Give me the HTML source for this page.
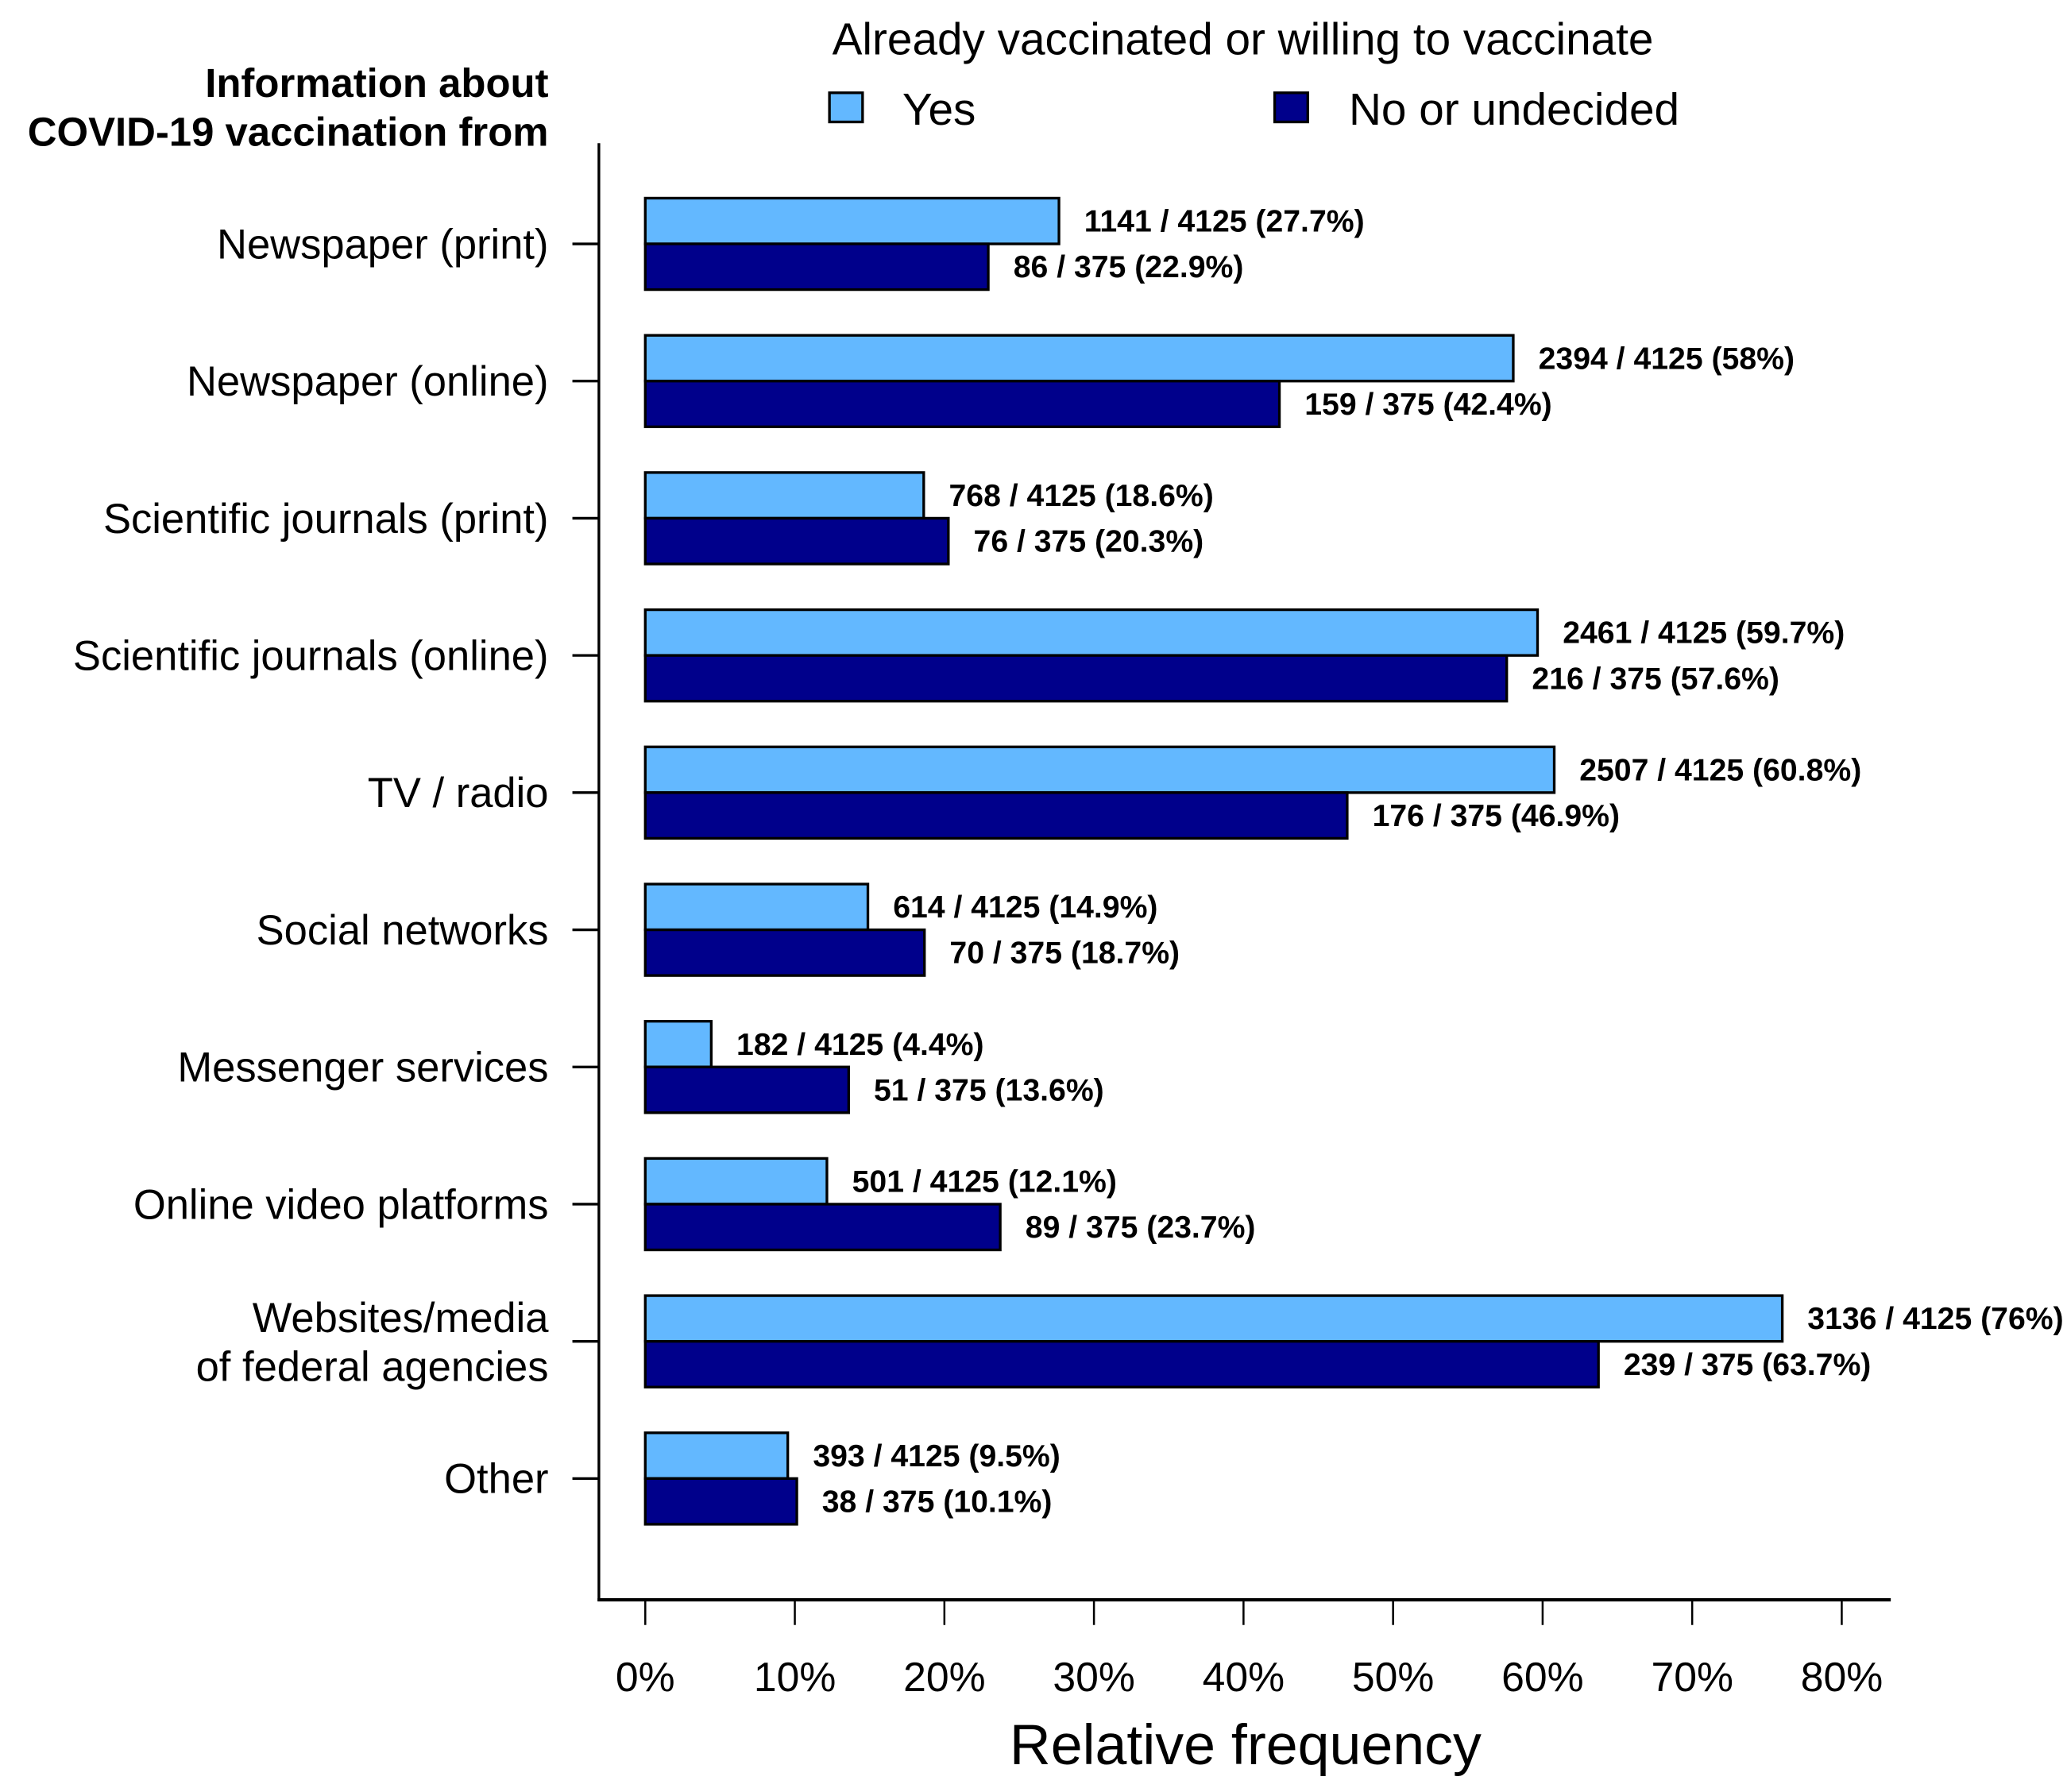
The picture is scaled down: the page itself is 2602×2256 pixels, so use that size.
<!DOCTYPE html>
<html><head><meta charset="utf-8">
<style>html,body{margin:0;padding:0;background:#fff}svg{display:block}text{font-family:"Liberation Sans",Arial,sans-serif}</style>
</head><body>
<svg id="chart" width="2602" height="2256" viewBox="0 0 1560 1352" preserveAspectRatio="none" xmlns="http://www.w3.org/2000/svg">
<text x="938" y="41" font-size="34" text-anchor="middle">Already vaccinated or willing to vaccinate</text>
<rect x="626" y="70" width="25" height="22" fill="#63B8FF" stroke="#000" stroke-width="2"/>
<text x="681" y="94" font-size="34">Yes</text>
<rect x="962" y="70" width="25" height="22" fill="#00008B" stroke="#000" stroke-width="2"/>
<text x="1018" y="94" font-size="34">No or undecided</text>
<text x="414" y="73" font-size="30.5" font-weight="bold" text-anchor="end">Information about</text>
<text x="414" y="110" font-size="30.5" font-weight="bold" text-anchor="end">COVID-19 vaccination from</text>
<line x1="452" y1="108" x2="452" y2="1208" stroke="#000" stroke-width="2"/>
<line x1="451" y1="1207" x2="1427" y2="1207" stroke="#000" stroke-width="2.5"/>
<text x="940" y="1331" font-size="43" text-anchor="middle">Relative frequency</text>
<g id="bars"></g>
</svg>
<script>
const categories = [["Newspaper (print)"],["Newspaper (online)"],["Scientific journals (print)"],["Scientific journals (online)"],["TV / radio"],["Social networks"],["Messenger services"],["Online video platforms"],["Websites/media","of federal agencies"],["Other"]];
const yesCounts = [1141,2394,768,2461,2507,614,182,501,3136,393];
const noCounts = [86,159,76,216,176,70,51,89,239,38];
const yesTotal = 4125;
const noTotal = 375;
const yesLabels = ["27.7%","58%","18.6%","59.7%","60.8%","14.9%","4.4%","12.1%","76%","9.5%"];
const noLabels = ["22.9%","42.4%","20.3%","57.6%","46.9%","18.7%","13.6%","23.7%","63.7%","10.1%"];
const xTicks = [0,10,20,30,40,50,60,70,80];

const NS = "http://www.w3.org/2000/svg";
const g = document.getElementById("bars");
const xScale = p => 487 + p * (1390 - 487) / 80;
const yScale = i => 184 + i * 103.5;
const barH = 34.5;
function mk(tag, attrs, parent) {
  const e = document.createElementNS(NS, tag);
  for (const k in attrs) e.setAttribute(k, attrs[k]);
  (parent || g).appendChild(e);
  return e;
}
xTicks.forEach(t => {
  const x = xScale(t);
  const l = mk("line", {x1:x, y1:1208, x2:x, y2:1226, stroke:"#000", "stroke-width":1.5});
  
  
  const tx = mk("text", {x:x, y:1276, "font-size":31, "text-anchor":"middle"});
  tx.textContent = t + "%";
  
  
});
categories.forEach((c, i) => {
  const yc = yScale(i);
  const tk = mk("line", {x1:432, y1:yc, x2:452, y2:yc, stroke:"#000", "stroke-width":2});
  
  
  const lab = mk("text", {x:414, "font-size":31.5, "text-anchor":"end"});
  
  
  if (c.length === 1) {
    lab.setAttribute("y", yc + 11);
    lab.textContent = c[0];
  } else {
    c.forEach((line, j) => {
      const ts = mk("tspan", {x:414, y: yc - 7 + j * 37}, lab);
      ts.textContent = line;
    });
  }
  const yp = yesCounts[i] / yesTotal * 100;
  const np = noCounts[i] / noTotal * 100;
  const b1 = mk("rect", {x:xScale(0), y:yc - barH, width:xScale(yp) - xScale(0), height:barH, fill:"#63B8FF", stroke:"#000", "stroke-width":2});
  
  
  const b2 = mk("rect", {x:xScale(0), y:yc, width:xScale(np) - xScale(0), height:barH, fill:"#00008B", stroke:"#000", "stroke-width":2});
  
  
  const t1 = mk("text", {x:xScale(yp) + 19, y:yc - barH / 2 + 8, "font-size":23.5, "font-weight":"bold"});
  t1.textContent = yesCounts[i] + " / " + yesTotal + " (" + yesLabels[i] + ")";
  
  
  const t2 = mk("text", {x:xScale(np) + 19, y:yc + barH / 2 + 8, "font-size":23.5, "font-weight":"bold"});
  t2.textContent = noCounts[i] + " / " + noTotal + " (" + noLabels[i] + ")";
  
  
});
</script>
</body></html>
